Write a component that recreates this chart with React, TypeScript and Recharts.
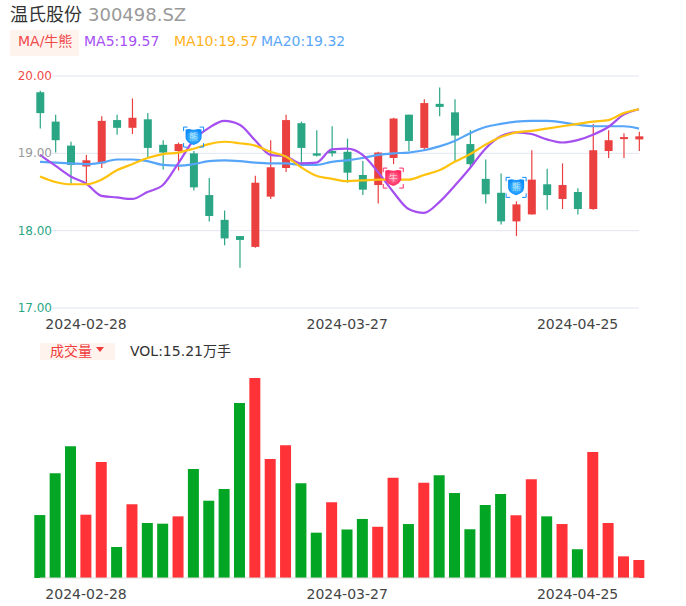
import { Bar, BarChart, CartesianGrid, Cell, ComposedChart, Line, ReferenceDot, ReferenceLine, XAxis, YAxis } from "recharts";

const FONT = "'DejaVu Sans', 'Noto Sans CJK SC', sans-serif";
const UP = "#eb4040";
const DOWN = "#2ba685";
const VOL_UP = "#ff3237";
const VOL_DOWN = "#03a524";

const dates = [
  "2024-02-23", "2024-02-26", "2024-02-27", "2024-02-28", "2024-02-29", "2024-03-01", "2024-03-04", "2024-03-05",
  "2024-03-06", "2024-03-07", "2024-03-08", "2024-03-11", "2024-03-12", "2024-03-13", "2024-03-14", "2024-03-15",
  "2024-03-18", "2024-03-19", "2024-03-20", "2024-03-21", "2024-03-27", "2024-03-28", "2024-03-29", "2024-04-01",
  "2024-04-02", "2024-04-03", "2024-04-08", "2024-04-09", "2024-04-10", "2024-04-11", "2024-04-12", "2024-04-15",
  "2024-04-16", "2024-04-17", "2024-04-18", "2024-04-25", "2024-04-26", "2024-04-29", "2024-04-30", "2024-05-06",
];
const tickDates = ["2024-02-28", "2024-03-27", "2024-04-25"];

const open = [
  19.79, 19.41, 19.10, 18.83, 18.87, 19.43, 19.33, 19.44, 19.11, 19.03,
  19.00, 18.46, 18.14, 17.93, 17.79, 18.44, 18.81, 19.39, 19.00, 19.03,
  19.02, 18.72, 18.59, 18.94, 19.50, 19.07, 19.64, 19.53, 19.12, 18.67,
  18.49, 18.12, 18.21, 18.60, 18.41, 18.50, 18.28, 19.03, 19.19, 19.18,
];
const close = [
  19.52, 19.17, 18.85, 18.91, 19.42, 19.33, 19.46, 19.07, 19.01, 19.12,
  18.56, 18.19, 17.90, 17.88, 18.62, 18.82, 19.43, 19.07, 18.97, 19.00,
  18.75, 18.53, 19.01, 19.45, 19.16, 19.65, 19.60, 19.23, 18.86, 18.47,
  18.12, 18.34, 18.66, 18.46, 18.59, 18.28, 19.04, 19.17, 19.21, 19.22,
];
const high = [
  19.81, 19.50, 19.15, 18.98, 19.48, 19.50, 19.71, 19.52, 19.17, 19.14,
  19.03, 18.68, 18.26, 17.93, 18.71, 19.17, 19.50, 19.41, 19.30, 19.35,
  19.19, 18.90, 19.02, 19.46, 19.50, 19.70, 19.85, 19.70, 19.30, 18.92,
  18.74, 18.38, 19.04, 18.80, 18.87, 18.55, 19.38, 19.30, 19.26, 19.28,
];
const low = [
  19.32, 19.01, 18.61, 18.62, 18.81, 19.24, 19.25, 18.94, 18.79, 18.78,
  18.52, 18.12, 17.81, 17.52, 17.78, 18.41, 18.76, 18.87, 18.96, 18.96,
  18.62, 18.46, 18.35, 18.86, 19.03, 19.03, 19.48, 18.90, 18.81, 18.35,
  18.08, 17.93, 18.21, 18.27, 18.28, 18.21, 18.27, 18.94, 18.94, 19.03,
];

const ma5 = [
  18.98, 18.84, 18.70, 18.61, 18.45, 18.43, 18.41, 18.50, 18.59, 18.87,
  19.17, 19.33, 19.42, 19.37, 19.17, 18.98, 18.96, 18.87, 18.88, 19.05,
  19.06, 18.98, 18.76, 18.50, 18.28, 18.23, 18.37, 18.58, 18.81, 19.06,
  19.22, 19.27, 19.25, 19.18, 19.14, 19.17, 19.24, 19.34, 19.50, 19.57,
];
const ma10 = [
  18.70, 18.63, 18.60, 18.60, 18.66, 18.78, 18.86, 18.94, 18.99, 19.01,
  19.06, 19.12, 19.15, 19.13, 19.10, 19.02, 18.96, 18.82, 18.71, 18.67,
  18.64, 18.65, 18.66, 18.66, 18.66, 18.72, 18.78, 18.89, 18.99, 19.11,
  19.21, 19.27, 19.29, 19.32, 19.35, 19.38, 19.41, 19.43, 19.52, 19.57,
];
const ma20 = [
  18.89, 18.88, 18.87, 18.86, 18.88, 18.92, 18.92, 18.90, 18.85, 18.84,
  18.86, 18.90, 18.91, 18.90, 18.88, 18.87, 18.87, 18.85, 18.85, 18.89,
  18.91, 18.94, 18.98, 19.00, 19.01, 19.04, 19.09, 19.16, 19.26, 19.34,
  19.38, 19.41, 19.42, 19.42, 19.40, 19.37, 19.35, 19.35, 19.35, 19.32,
];

// 万手
const volume = [
  53.2, 88.5, 111.3, 53.5, 98.0, 26.2, 62.3, 46.5, 45.9, 52.1,
  92.1, 65.3, 75.2, 147.9, 169.0, 100.6, 112.1, 80.0, 38.3, 64.0,
  41.0, 49.9, 43.3, 84.8, 45.6, 80.5, 86.8, 71.8, 41.2, 61.7,
  71.0, 53.0, 83.4, 52.1, 45.6, 24.3, 106.5, 46.5, 18.3, 15.21,
];
const volumeUp = [
  0, 0, 0, 1, 1, 0, 1, 0, 0, 1,
  0, 0, 0, 0, 1, 1, 1, 0, 0, 1,
  0, 0, 1, 1, 0, 1, 0, 0, 0, 0,
  0, 1, 1, 0, 1, 0, 1, 1, 1, 1,
];

const bearMarks = [
  { date: "2024-03-08", value: 19.21 },
  { date: "2024-04-15", value: 18.56 },
];
const bullMarks = [{ date: "2024-04-01", value: 18.68 }];

const rows = dates.map((date, i) => ({
  date,
  open: open[i],
  close: close[i],
  high: high[i],
  low: low[i],
  ma5: ma5[i],
  ma10: ma10[i],
  ma20: ma20[i],
  volume: volume[i],
  volumeUp: volumeUp[i],
}));

function Candle(props: any) {
  const { x, y, width, height, payload } = props;
  const h = Math.abs(height);
  const ratio = h / (payload.high - payload.low);
  const topY = y + (payload.high - Math.max(payload.open, payload.close)) * ratio;
  const bodyH = Math.max(Math.abs(payload.open - payload.close) * ratio, 2);
  const color = payload.close >= payload.open ? UP : DOWN;
  const mid = x + width / 2;
  return (
    <g>
      <line x1={mid} x2={mid} y1={y} y2={y + h} stroke={color} strokeWidth={1.2} />
      <rect x={x} y={topY} width={width} height={bodyH} fill={color} />
    </g>
  );
}

function priceTick(props: any) {
  const { y, payload } = props;
  const v = payload.value;
  const fill = v === 20 ? "#f04a4a" : v === 19 ? "#999999" : DOWN;
  return (
    <text x={52} y={y + 4} textAnchor="end" fontSize={12} fontFamily={FONT} fill={fill}>
      {v.toFixed(2)}
    </text>
  );
}

function Badge({ cx, cy, color, light, id, label }: any) {
  const r = 10;
  const c = 4;
  const corners = [
    [-1, -1],
    [1, -1],
    [-1, 1],
    [1, 1],
  ];
  return (
    <g transform={`translate(${cx},${cy})`}>
      <defs>
        <radialGradient id={id}>
          <stop offset="0%" stopColor={light} />
          <stop offset="100%" stopColor={color} />
        </radialGradient>
      </defs>
      {corners.map(([a, b], i) => (
        <path
          key={i}
          d={`M${a * r} ${b * (r - c)}V${b * r}H${a * (r - c)}`}
          fill="none"
          stroke={color}
          strokeWidth={1}
        />
      ))}
      <path d="M-8 -7.5 L-4.5 -8 Q0 -6.5 4.5 -8 L8 -7.5 L8 1 Q7 6 0 8 Q-7 6 -8 1 Z" fill={`url(#${id})`} />
      <text y={3} textAnchor="middle" fontSize={9} fontFamily={FONT} fill="#ffffff" opacity={0.6}>
        {label}
      </text>
    </g>
  );
}

function Price() {
  return (
    <ComposedChart
      width={686}
      height={340}
      data={rows}
      margin={{ top: 76, right: 39.3, bottom: 0, left: 31.3 }}
    >
      <CartesianGrid vertical={false} x={52} width={587} stroke="#e2e5f3" />
      <XAxis
        dataKey="date"
        ticks={tickDates}
        interval={0}
        height={32}
        axisLine={false}
        tickLine={false}
        tickMargin={5}
        tick={{ fontSize: 14, fontFamily: FONT, fill: "#444444" }}
      />
      <YAxis
        width={1}
        domain={[17, 20]}
        ticks={[17, 18, 19, 20]}
        axisLine={false}
        tickLine={false}
        tick={priceTick}
        allowDataOverflow
      />
      <Bar
        dataKey={(d: any) => [d.low, d.high]}
        barSize={8}
        shape={<Candle />}
        isAnimationActive={false}
      />
      <Line type="monotone" dataKey="ma20" stroke="#56a5f8" strokeWidth={2.2} dot={false} isAnimationActive={false} />
      <Line type="monotone" dataKey="ma5" stroke="#a54ff0" strokeWidth={2.2} dot={false} isAnimationActive={false} />
      <Line type="monotone" dataKey="ma10" stroke="#ffc20e" strokeWidth={2.2} dot={false} isAnimationActive={false} />
      {bearMarks.map((m, i) => (
        <ReferenceDot
          key={m.date}
          x={m.date}
          y={m.value}
          shape={(p: any) => (
            <Badge cx={p.cx} cy={p.cy} color="#0f8cff" light="#5fd0ff" id={`bear${i}`} label="熊" />
          )}
        />
      ))}
      {bullMarks.map((m, i) => (
        <ReferenceDot
          key={m.date}
          x={m.date}
          y={m.value}
          shape={(p: any) => (
            <Badge cx={p.cx} cy={p.cy} color="#ff2a62" light="#ff80a0" id={`bull${i}`} label="牛" />
          )}
        />
      ))}
    </ComposedChart>
  );
}

function Volume() {
  return (
    <BarChart
      width={686}
      height={246}
      data={rows}
      margin={{ top: 18, right: 39.3, bottom: 0, left: 32.3 }}
    >
      <XAxis
        dataKey="date"
        ticks={tickDates}
        interval={0}
        height={28}
        axisLine={false}
        tickLine={false}
        tickMargin={5}
        tick={{ fontSize: 14, fontFamily: FONT, fill: "#444444" }}
      />
      <YAxis width={0} domain={[0, 169]} hide />
      <Bar dataKey="volume" barSize={11} isAnimationActive={false}>
        {rows.map((r) => (
          <Cell key={r.date} fill={r.volumeUp ? VOL_UP : VOL_DOWN} />
        ))}
      </Bar>
      <ReferenceLine
        segment={[
          { x: dates[0], y: 0 },
          { x: dates[dates.length - 1], y: 0 },
        ]}
        stroke="#dddddd"
      />
    </BarChart>
  );
}

function Label({ left, top, color, size = 14, children }: any) {
  return (
    <div style={{ position: "absolute", left, top, color, fontSize: size, lineHeight: "20px", whiteSpace: "nowrap" }}>
      {children}
    </div>
  );
}

export default function App() {
  return (
    <div style={{ position: "absolute", left: 0, top: 0, width: 686, height: 606, background: "#fff", fontFamily: FONT, overflow: "hidden" }}>
      <div style={{ position: "absolute", left: 0, top: 0 }}>
        <Price />
      </div>
      <div style={{ position: "absolute", left: 0, top: 360 }}>
        <Volume />
      </div>
      <Label left={10} top={5} color="#333333" size={18}>温氏股份</Label>
      <Label left={88} top={5} color="#999999" size={18}>300498.SZ</Label>
      <div style={{ position: "absolute", left: 10, top: 30, width: 69, height: 26, background: "#fff3ee" }} />
      <Label left={18} top={31} color="#f04a4a">MA/牛熊</Label>
      <Label left={84} top={31} color="#a54ff5">MA5:19.57</Label>
      <Label left={174} top={31} color="#ffb21a">MA10:19.57</Label>
      <Label left={261} top={31} color="#5aa7f8">MA20:19.32</Label>
      <div style={{ position: "absolute", left: 40, top: 343, width: 75, height: 17, background: "#fff3ee" }} />
      <Label left={50} top={341} color="#f03c3c">成交量</Label>
      <div style={{ position: "absolute", left: 96, top: 347, width: 0, height: 0, borderLeft: "4px solid transparent", borderRight: "4px solid transparent", borderTop: "5px solid #f03c3c" }} />
      <Label left={130} top={341} color="#333333">VOL:15.21万手</Label>
    </div>
  );
}
